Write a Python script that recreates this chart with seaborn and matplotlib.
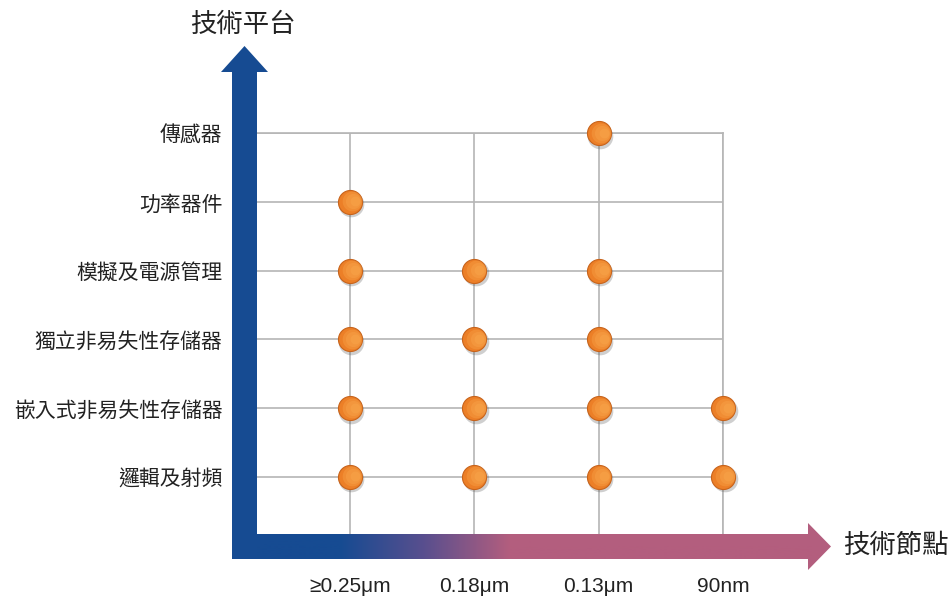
import numpy as np
import pandas as pd
import seaborn as sns
import matplotlib.pyplot as plt
from matplotlib.patches import Polygon
from matplotlib.colors import LinearSegmentedColormap
from matplotlib.transforms import offset_copy

# 技術平台 (從下到上) 和 技術節點
platforms = ["邏輯及射頻", "嵌入式非易失性存儲器", "獨立非易失性存儲器",
             "模擬及電源管理", "功率器件", "傳感器"]
nodes = ["≥0.25μm", "0.18μm", "0.13μm", "90nm"]
# 1 = 該平台在該節點有工藝
availability = [
    [1, 1, 1, 1],
    [1, 1, 1, 1],
    [1, 1, 1, 0],
    [1, 1, 1, 0],
    [1, 0, 0, 0],
    [0, 0, 1, 0],
]

df = pd.DataFrame([
    {"platform": p, "node": n, "x": j, "y": i}
    for i, p in enumerate(platforms)
    for j, n in enumerate(nodes)
    if availability[i][j]
])

sns.set_style("white")
plt.rcParams["font.family"] = ["Noto Sans CJK TC", "DejaVu Sans"]

W, H = 949, 600
fig = plt.figure(figsize=(W / 100, H / 100), dpi=100)
ax = fig.add_axes([256 / W, 1 - 534 / H, (723 - 256) / W, (534 - 133) / H])

grid_c = "#b5b5b5"
ax.grid(True, color=grid_c, lw=1.2, zorder=0)
for s in ["left", "bottom"]:
    ax.spines[s].set_visible(False)
for s in ["top", "right"]:
    ax.spines[s].set_color(grid_c)
    ax.spines[s].set_linewidth(1.2)

# 陰影
shadow_tr = offset_copy(ax.transData, fig=fig, x=1.5, y=-2.5, units="dots")
ax.scatter(df["x"], df["y"], s=340, color="#555555", alpha=0.28, lw=0,
           transform=shadow_tr, zorder=3, clip_on=False)
sns.scatterplot(data=df, x="x", y="y", s=300, color="#ec7f27",
                edgecolor="#c7631b", linewidth=0.8, zorder=4, ax=ax,
                clip_on=False, legend=False)
# 高光 (右側較亮)
for k, (sz, dx, a) in enumerate([(200, 2.0, 0.35), (120, 3.5, 0.35), (50, 5.0, 0.4)]):
    tr = offset_copy(ax.transData, fig=fig, x=dx, y=0.5, units="dots")
    ax.scatter(df["x"], df["y"], s=sz, color="#f9a94e", alpha=a, lw=0,
               transform=tr, zorder=5 + k, clip_on=False)

ax.set_xlim(-0.754, 3)
ax.set_ylim(-0.83, 5)
ax.set_xticks(range(len(nodes)))
ax.set_xticklabels(nodes, fontsize=15, color="#222222",
                   fontfamily=["Liberation Sans", "DejaVu Sans"])
ax.set_yticks(range(len(platforms)))
ax.set_yticklabels(platforms, fontsize=15, color="#222222")
ax.tick_params(axis="x", length=0, pad=31)
ax.tick_params(axis="y", length=0, pad=24)
ax.set_xlabel("")
ax.set_ylabel("")

# 箭頭裝飾
deco = fig.add_axes([0, 0, 1, 1], zorder=5)
deco.set_facecolor("none")
blue = "#164b92"
pink = "#b35e7e"
cmap = LinearSegmentedColormap.from_list("bp", [blue, "#5a4f8e", pink])
xs = np.linspace(232, 831, 600)
t = np.clip((xs - 340) / (510 - 340), 0, 1)
im = deco.imshow(t[None, :], cmap=cmap, vmin=0, vmax=1, aspect="auto",
                 extent=[232, 831, 570, 523])
harrow = Polygon([(232, 534), (808, 534), (808, 523), (831, 546.5),
                  (808, 570), (808, 559), (232, 559)],
                 facecolor="none", edgecolor="none")
deco.add_patch(harrow)
im.set_clip_path(harrow)
varrow = Polygon([(232, 559), (232, 72), (221, 72), (244.5, 46),
                  (268, 72), (257, 72), (257, 559)],
                 facecolor=blue, edgecolor="none")
deco.add_patch(varrow)
deco.text(243, 24, "技術平台", ha="center", va="center", fontsize=19,
          color="#222222")
deco.text(843, 545, "技術節點", ha="left", va="center", fontsize=19,
          color="#222222")
deco.set_xlim(0, W)
deco.set_ylim(H, 0)
deco.axis("off")

fig.savefig("out.png", dpi=100)
